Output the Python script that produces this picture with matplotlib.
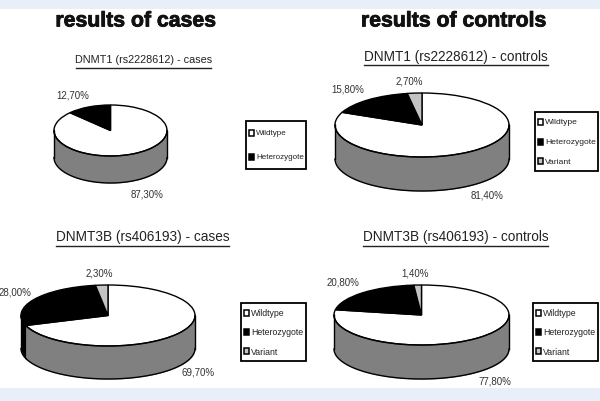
import numpy as np
import matplotlib
matplotlib.use('Agg')
import matplotlib.pyplot as plt
import matplotlib.patheffects as pe
from matplotlib.patches import Rectangle

plt.rcParams['font.family'] = ['Liberation Sans', 'DejaVu Sans']

W, H = 600, 402

# datos (%)
GENOTIPOS = ['Wildtype', 'Heterozygote', 'Variant']
DNMT1_CASES = [87.3, 12.7]
DNMT1_CONTROLS = [81.4, 15.8, 2.7]
DNMT3B_CASES = [69.7, 28.0, 2.3]
DNMT3B_CONTROLS = [77.8, 20.8, 1.4]

COLOR_TOP = ['white', 'black', '#c4c4c4']
COLOR_WALL = ['#808080', 'black', '#a0a0a0']

fig = plt.figure(figsize=(W / 100, H / 100), dpi=100, facecolor='white')

# lienzo en pixeles para textos y bandas
bg = fig.add_axes([0, 0, 1, 1])
bg.set_xlim(0, W)
bg.set_ylim(H, 0)
bg.axis('off')
bg.add_patch(Rectangle((0, 0), W, 10, color='#e9eff8', lw=0))
bg.add_patch(Rectangle((0, 389), W, 13, color='#e9eff8', lw=0))


def pie3d(valores, cx, cy, rx, ry, prof):
    # ejes propios: radio 1 en x e y, la aplanacion sale de los limites
    d = prof / ry
    m = 0.03
    x0, x1 = cx - rx * (1 + m), cx + rx * (1 + m)
    y_top, y_bot = cy - ry * (1 + m), cy + prof + ry * (1 + m)
    ax = fig.add_axes([x0 / W, 1 - y_bot / H, (x1 - x0) / W, (y_bot - y_top) / H])
    ax.patch.set_alpha(0)

    ax.pie(valores, colors=COLOR_TOP[:len(valores)], startangle=90, counterclock=False,
           radius=1, wedgeprops={'edgecolor': 'black', 'linewidth': 1.0})
    ax.set_aspect('auto')
    ax.set_xlim(-1 - m, 1 + m)
    ax.set_ylim(-1 - d - m, 1 + m)

    # pared lateral, solo la mitad frontal
    limites = np.cumsum([0] + list(valores)) / sum(valores) * 360
    for i in range(len(valores)):
        a, b = max(limites[i], 90), min(limites[i + 1], 270)
        if b <= a:
            continue
        t = np.radians(np.linspace(a, b, 80))
        xs = np.sin(t)
        ys = np.cos(t)
        ax.fill_between(xs, ys, ys - d, color=COLOR_WALL[i], lw=0, zorder=0.5)
        ax.plot(xs, ys - d, color='black', lw=1.0, zorder=3)
        ax.plot(xs, ys, color='black', lw=1.0, zorder=3)
    ax.plot([1, 1], [0, -d], color='black', lw=1.0, zorder=3)
    ax.plot([-1, -1], [0, -d], color='black', lw=1.0, zorder=3)


def leyenda(x0, y0, x1, y1, filas, fs):
    n = len(filas)
    bg.add_patch(Rectangle((x0, y0), x1 - x0, y1 - y0, fc='white', ec='black', lw=1.3))
    paso = (y1 - y0) / n
    for i in range(n):
        y = y0 + paso * (i + 0.5)
        bg.add_patch(Rectangle((x0 + 3, y - 3), 5, 6, fc=COLOR_TOP[i], ec='black', lw=1.1))
        bg.text(x0 + 10, y, filas[i], fontsize=fs, ha='left', va='center', color='#222222')


def pct(v):
    return f'{v:.2f}%'.replace('.', ',')


def subtitulo(txt, x0, x1, y, y_linea, fs):
    bg.text((x0 + x1) / 2, y, txt, fontsize=fs, ha='center', va='center', color='#222222')
    bg.plot([x0, x1], [y_linea, y_linea], color='#222222', lw=1.0)


# titulos
for txt, x in [('results of cases', 136), ('results of controls', 454)]:
    bg.text(x, 22, txt, fontsize=15.3, fontweight='bold', ha='center', va='center', color='#111111',
            path_effects=[pe.withStroke(linewidth=0.6, foreground='#111111')])

subtitulo('DNMT1 (rs2228612) - cases', 76, 211, 60, 69, 7.8)
subtitulo('DNMT1 (rs2228612) - controls', 364, 548, 57, 66, 9.8)
subtitulo('DNMT3B (rs406193) - cases', 56, 229, 237, 247, 9.8)
subtitulo('DNMT3B (rs406193) - controls', 363, 548, 237, 247, 9.8)

# tortas
pie3d(DNMT1_CASES, 110.5, 131.5, 56.5, 25.5, 27)
pie3d(DNMT1_CONTROLS, 422, 126, 87, 32, 34)
pie3d(DNMT3B_CASES, 108, 316.5, 87, 30.5, 33)
pie3d(DNMT3B_CONTROLS, 421.5, 316, 87.5, 30, 34)

# etiquetas de porcentaje
for v, x, y in [(DNMT1_CASES[1], 73, 95), (DNMT1_CASES[0], 147, 195),
                (DNMT1_CONTROLS[1], 348, 90), (DNMT1_CONTROLS[2], 409, 81), (DNMT1_CONTROLS[0], 487, 196),
                (DNMT3B_CASES[1], 15, 293), (DNMT3B_CASES[2], 99, 274), (DNMT3B_CASES[0], 198, 373),
                (DNMT3B_CONTROLS[1], 343, 283), (DNMT3B_CONTROLS[2], 415, 274), (DNMT3B_CONTROLS[0], 495, 382)]:
    bg.text(x, y, pct(v), fontsize=7, ha='center', va='center', color='#333333')

# leyendas
bg.set_zorder(5)
bg.patch.set_alpha(0)
leyenda(246, 122, 306, 170, GENOTIPOS[:2], 5.8)
leyenda(535, 113, 598, 172, GENOTIPOS, 6.1)
leyenda(241, 304, 306, 362, GENOTIPOS, 6.3)
leyenda(533, 304, 598, 362, GENOTIPOS, 6.3)

fig.savefig('out.png', dpi=100, facecolor='white')
